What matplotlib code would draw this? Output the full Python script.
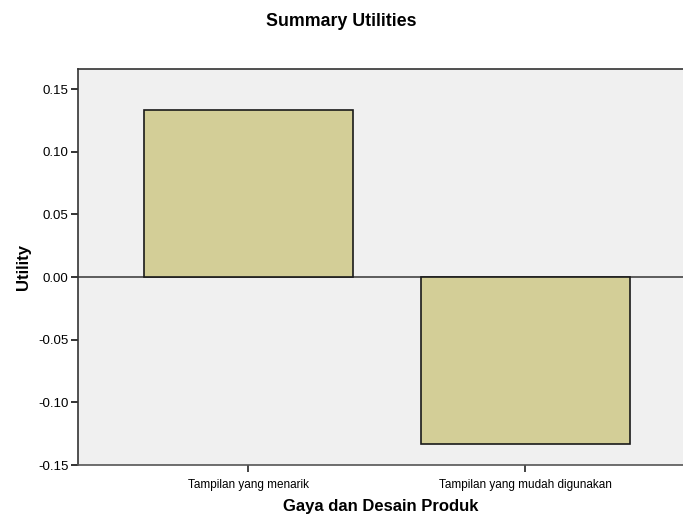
import matplotlib.pyplot as plt

# --- Data ---
categories = ["Tampilan yang menarik", "Tampilan yang mudah digunakan"]
utilities = [0.133, -0.133]
y_ticks = [-0.15, -0.10, -0.05, 0.00, 0.05, 0.10, 0.15]

plt.rcParams['font.family'] = ['Liberation Sans', 'DejaVu Sans']

fig = plt.figure(figsize=(6.83, 5.18), dpi=100)
ax = fig.add_axes([78 / 683, 1 - 465 / 518, 605 / 683, 396 / 518])
ax.set_facecolor('#f0f0f0')

x = range(len(categories))
ax.bar(x, utilities, width=0.755, color='#d3ce97', edgecolor='#1a1a1a',
       linewidth=1.2, zorder=3)
ax.axhline(0, color='#444444', linewidth=1.2, zorder=2)

ax.set_xlim(-0.614, 1.570)
ax.set_ylim(-0.15, 0.166)
ax.set_xticks(list(x))
ax.set_xticklabels(categories, fontsize=8.5)
ax.set_yticks(y_ticks)
ax.set_yticklabels([f"{v:.2f}" for v in y_ticks], fontsize=9.5)

ax.tick_params(axis='y', length=5, width=1.4, color='#333333', pad=2)
ax.tick_params(axis='x', length=5, width=1.4, color='#444444', pad=5)

for side in ['left', 'top', 'bottom']:
    ax.spines[side].set_color('#333333')
    ax.spines[side].set_linewidth(1.2)
ax.spines['bottom'].set_color('#555555')
ax.spines['right'].set_visible(False)

ax.set_ylabel("Utility", fontsize=12, fontweight='bold', labelpad=5)
ax.set_xlabel("Gaya dan Desain Produk", fontsize=12, fontweight='bold', labelpad=6)
fig.text(0.5, 1 - 22 / 518, "Summary Utilities", ha='center', va='center',
         fontsize=12.8, fontweight='bold')

fig.savefig("out.png", dpi=100)
